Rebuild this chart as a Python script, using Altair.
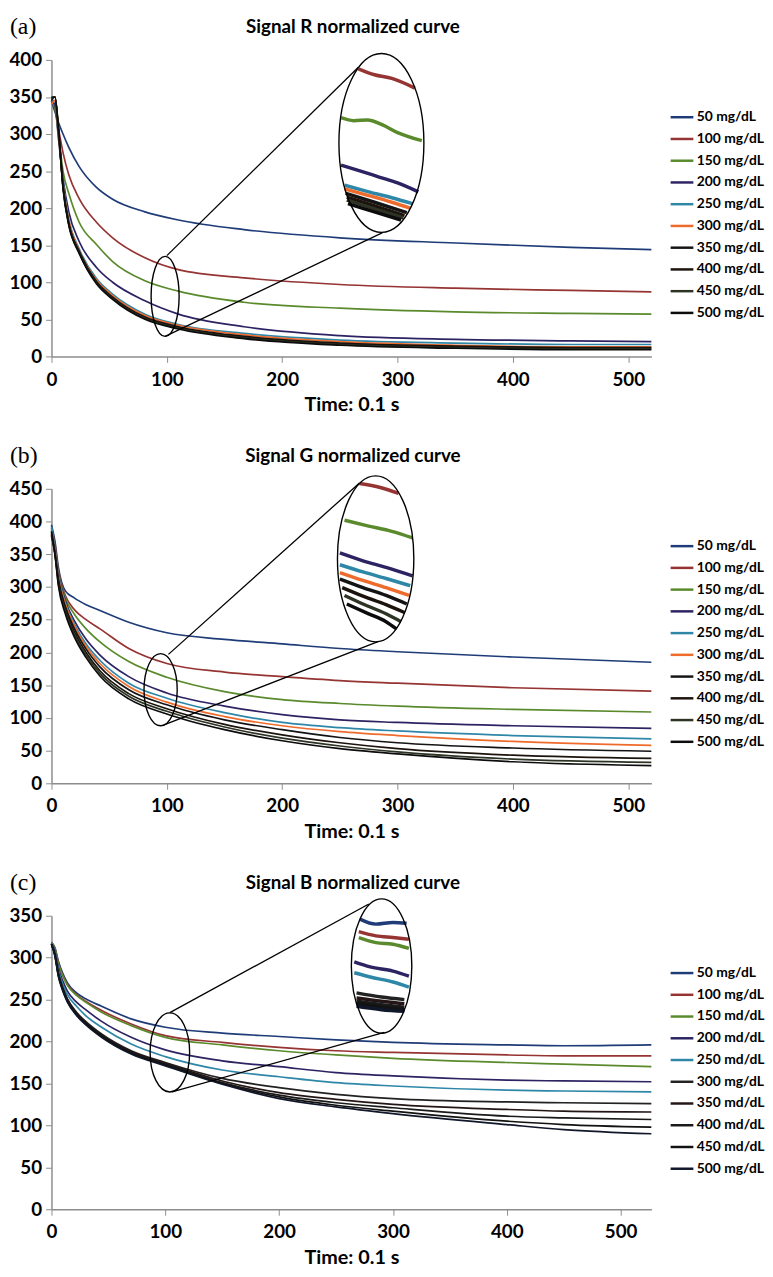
import altair as alt
import pandas as pd

# ---- data ----
LABELS_AB = ["50 mg/dL", "100 mg/dL", "150 mg/dL", "200 mg/dL", "250 mg/dL",
             "300 mg/dL", "350 mg/dL", "400 mg/dL", "450 mg/dL", "500 mg/dL"]
LABELS_C = ["50 mg/dL", "100 mg/dL", "150 md/dL", "200 md/dL", "250 md/dL",
            "300 mg/dL", "350 md/dL", "400 md/dL", "450 md/dL", "500 mg/dL"]

COLORS_AB = ["#1f3c78", "#953432", "#5a8a2c", "#2c2362", "#2f87a8",
             "#ef6b2c", "#141414", "#1b130c", "#2d3424", "#0c0c0c"]
COLORS_C = ["#1f3c78", "#953432", "#5a8a2c", "#2c2362", "#2f87a8",
            "#222222", "#241616", "#1a1a1a", "#121212", "#10172a"]

# panel (a) signal R
X_A = [0, 3, 6, 10, 15, 24, 39, 53, 81, 110, 167, 250, 350, 450, 520]
R_50 = [345, 330, 316, 300, 282, 256, 228, 212, 195, 184, 171, 160, 153, 147, 144]
R_100 = [345, 335, 308, 275, 245, 213, 181, 160, 133, 117, 106, 97, 92, 89, 87]
R_150 = [345, 335, 300, 250, 220, 181, 151, 128, 102, 88, 73, 65, 60, 58, 57]
R_200 = [345, 340, 295, 240, 195, 155, 120, 100, 75, 57, 40, 28, 23, 21, 20]
R_250 = [345, 345, 300, 235, 185, 145, 105, 84, 57, 43, 31, 22, 18, 16, 16]
R_300 = [340, 345, 302, 232, 183, 143, 103, 82, 55, 42, 29, 20, 15, 13, 13]
R_350 = [345, 350, 305, 230, 180, 142, 101, 80, 53, 40, 27, 18, 14, 12, 12]
R_400 = [348, 350, 307, 229, 179, 141, 100, 79, 52, 39, 26, 17, 13, 11, 11]
R_450 = [348, 350, 308, 228, 178, 140, 99, 78, 51, 38, 25, 16, 12, 10, 10]
R_500 = [350, 350, 310, 227, 177, 139, 98, 77, 50, 37, 24, 15, 11, 9, 9]

# panel (b) signal G
X_B = [0, 3, 6, 12, 20, 30, 42, 67, 100, 150, 200, 250, 300, 400, 520]
G_50 = [395, 370, 330, 294, 283, 273, 264, 246, 230, 220, 213, 206, 201, 193, 185]
G_100 = [390, 365, 325, 287, 265, 250, 236, 206, 183, 170, 163, 157, 153, 146, 141]
G_150 = [388, 360, 322, 283, 258, 236, 216, 186, 162, 140, 128, 122, 118, 113, 109]
G_200 = [385, 360, 320, 279, 248, 220, 196, 163, 138, 118, 105, 97, 93, 88, 84]
G_250 = [392, 358, 318, 276, 243, 213, 188, 153, 130, 108, 93, 85, 80, 73, 68]
G_300 = [380, 355, 315, 274, 240, 209, 183, 148, 124, 102, 88, 79, 73, 64, 58]
G_350 = [378, 352, 312, 270, 236, 205, 178, 143, 120, 97, 82, 70, 62, 54, 49]
G_400 = [380, 350, 308, 266, 231, 200, 172, 137, 114, 90, 74, 62, 53, 43, 38]
G_450 = [382, 352, 305, 263, 227, 196, 168, 133, 110, 86, 69, 57, 48, 37, 32]
G_500 = [385, 350, 302, 259, 223, 192, 164, 129, 106, 82, 65, 53, 45, 33, 27]

# panel (c) signal B
X_C = [0, 3, 6, 10, 14, 22, 30, 44, 70, 100, 150, 200, 250, 300, 400, 450, 527]
B_50 = [318, 312, 296, 281, 270, 258, 251, 242, 227, 217, 210, 206, 202, 199, 196, 195, 196]
B_100 = [318, 311, 294, 279, 268, 256, 248, 237, 221, 207, 199, 193, 189, 187, 184, 183, 183]
B_150 = [318, 311, 293, 278, 267, 255, 247, 235, 219, 205, 196, 189, 184, 180, 175, 173, 170]
B_200 = [317, 308, 288, 272, 260, 247, 238, 224, 205, 190, 177, 170, 163, 159, 154, 153, 152]
B_250 = [317, 306, 285, 268, 256, 242, 231, 217, 197, 182, 166, 158, 151, 147, 142, 141, 140]
B_300 = [316, 304, 282, 264, 251, 235, 224, 209, 189, 175, 156, 145, 137, 132, 128, 127, 126]
B_350 = [316, 304, 281, 263, 250, 234, 223, 208, 188, 174, 153, 139, 131, 125, 119, 117, 116]
B_400 = [316, 303, 280, 262, 249, 233, 222, 207, 187, 173, 151, 136, 127, 121, 111, 109, 107]
B_450 = [316, 303, 279, 261, 248, 232, 221, 206, 186, 172, 150, 134, 124, 117, 105, 101, 98]
B_500 = [316, 302, 278, 260, 247, 231, 220, 205, 185, 171, 149, 132, 122, 114, 101, 95, 90]

# magnified segments drawn inside the big ellipse (series index: xs, ys)
INSET_A = {
    1: ([266, 280, 295, 315], [388, 380, 375, 362]),
    2: ([251, 262, 274, 286, 300, 321], [322, 318, 319, 313, 302, 291]),
    3: ([251, 268, 284, 300, 318], [258, 250, 242, 234, 222]),
    4: ([254, 275, 295, 313], [231, 222, 214, 206]),
    5: ([254, 275, 295, 311], [226, 217, 208, 200]),
    6: ([255, 280, 308], [220, 208, 194]),
    7: ([256, 280, 306], [215, 203, 190]),
    8: ([256, 280, 305], [211, 199, 187]),
    9: ([257, 280, 303], [206, 195, 184]),
}
INSET_B = {
    1: ([267, 285, 301], [458, 452, 443]),
    2: ([254, 275, 295, 313], [402, 393, 385, 375]),
    3: ([250, 270, 290, 313], [352, 340, 330, 317]),
    4: ([250, 270, 290, 311], [334, 323, 313, 302]),
    5: ([250, 270, 290, 310], [322, 310, 299, 287]),
    6: ([250, 270, 290, 308], [312, 299, 287, 274]),
    7: ([252, 270, 290, 306], [299, 286, 273, 261]),
    8: ([254, 270, 290, 303], [287, 274, 259, 247]),
    9: ([256, 275, 290, 299], [274, 259, 247, 236]),
}
INSET_C = {
    0: ([271, 285, 300, 312], [346, 340, 342, 341]),
    1: ([270, 285, 300, 314], [331, 326, 324, 322]),
    2: ([270, 285, 300, 314], [324, 318, 316, 311]),
    3: ([266, 280, 300, 314], [295, 289, 284, 278]),
    4: ([266, 280, 300, 314], [282, 277, 271, 265]),
    5: ([268, 290, 310], [258, 253, 250]),
    6: ([268, 290, 310], [252, 248, 245]),
    7: ([268, 290, 310], [248, 244, 241]),
    8: ([268, 290, 310], [245, 241, 238]),
    9: ([268, 290, 310], [242, 238, 236]),
}

# zoom ellipse centres (small, big) and connector lines, in data units
ZOOM_A = [(98.5, 81), (286, 288)]
ZOOM_B = [(94.6, 143), (281, 343)]
ZOOM_C = [(104, 187), (290, 290)]
LINK_A = {"x": [100, 98.5], "y": [136, 27], "x2": [266, 287], "y2": [390, 167]}
LINK_B = {"x": [101.4, 97], "y": [197, 89], "x2": [267, 283.6], "y2": [459, 217]}
LINK_C = {"x": [104, 106], "y": [234.5, 140], "x2": [278.8, 292.4], "y2": [364, 211]}


def ellipse_path(r):
    # unit ellipse (height 2, width 2r) made of 4 bezier curves
    k = 0.5523
    return (f"M 0 -1 C {k*r} -1 {r} {-k} {r} 0 C {r} {k} {k*r} 1 0 1 "
            f"C {-k*r} 1 {-r} {k} {-r} 0 C {-r} {-k} {-k*r} -1 0 -1 Z")


def panel(tag, title, xs, curves, labels, colors, xmax, ymax, h,
          inset, zoom, link, ell_style):
    rows = []
    for lab, ys in zip(labels, curves):
        for x, y in zip(xs, ys):
            rows.append({"series": lab, "x": x, "y": y})
    df = pd.DataFrame(rows)

    irows = []
    for i, (ix, iy) in inset.items():
        for x, y in zip(ix, iy):
            irows.append({"series": labels[i], "x": x, "y": y})
    idf = pd.DataFrame(irows)

    xenc = alt.X("x:Q", scale=alt.Scale(domain=[0, xmax], nice=False),
                 axis=alt.Axis(values=[0, 100, 200, 300, 400, 500], title="Time: 0.1 s",
                               grid=False, labelFlush=False, labelPadding=8, titlePadding=6,
                               tickCount=20))
    # tickCount kept high so that every 50 step keeps its label
    yenc = alt.Y("y:Q", scale=alt.Scale(domain=[0, ymax], nice=False),
                 axis=alt.Axis(values=list(range(0, ymax + 1, 50)), title=None,
                               grid=False, labelPadding=4, labelOverlap=False, tickCount=20))
    color = alt.Color("series:N", scale=alt.Scale(domain=labels, range=colors),
                      legend=alt.Legend(orient="none", legendX=625, legendY=45, title=None,
                                        symbolType="stroke", symbolSize=529,
                                        symbolStrokeWidth=2.5, labelFont="Lato",
                                        labelFontSize=14, labelFontWeight="bold",
                                        labelColor="black", labelOffset=2, rowPadding=2,
                                        padding=0))

    lines = alt.Chart(df).mark_line(strokeWidth=1.7, interpolate="monotone").encode(
        x=xenc, y=yenc, color=color)
    zoomed = alt.Chart(idf).mark_line(strokeWidth=3.5, interpolate="monotone").encode(
        x="x:Q", y="y:Q", color=color)

    layers = [lines, zoomed]
    for (cx, cy), (eh, r) in zip(zoom, ell_style):
        ell = alt.Chart(pd.DataFrame({"x": [cx], "y": [cy]})).mark_point(
            shape=ellipse_path(r), size=eh * eh, filled=False, color="black",
            strokeWidth=1.4, opacity=1).encode(x="x:Q", y="y:Q")
        layers.append(ell)
    links = alt.Chart(pd.DataFrame(link)).mark_rule(color="black", strokeWidth=1.3).encode(
        x="x:Q", y="y:Q", x2="x2:Q", y2="y2:Q")
    layers.append(links)

    # panel letter and heading, placed above the plot area
    texts = pd.DataFrame({"t": [tag, title]})
    letter = alt.Chart(texts).transform_filter(alt.datum.t == tag).mark_text(
        font="Liberation Serif", fontSize=24, align="left", baseline="middle").encode(
        x=alt.value(-42), y=alt.value(-33), text="t:N")
    heading = alt.Chart(texts).transform_filter(alt.datum.t == title).mark_text(
        font="Lato", fontSize=19, fontWeight="bold", align="center", baseline="middle").encode(
        x=alt.value(305), y=alt.value(-33), text="t:N")
    layers += [letter, heading]

    return alt.layer(*layers).properties(width=607, height=h)


a = panel("(a)", "Signal R normalized curve", X_A,
          [R_50, R_100, R_150, R_200, R_250, R_300, R_350, R_400, R_450, R_500],
          LABELS_AB, COLORS_AB, 520, 400, 300, INSET_A, ZOOM_A, LINK_A,
          [(81, 0.35), (181, 0.475)])
b = panel("(b)", "Signal G normalized curve", X_B,
          [G_50, G_100, G_150, G_200, G_250, G_300, G_350, G_400, G_450, G_500],
          LABELS_AB, COLORS_AB, 520, 450, 298, INSET_B, ZOOM_B, LINK_B,
          [(73, 0.46), (168, 0.46)])
c = panel("(c)", "Signal B normalized curve", X_C,
          [B_50, B_100, B_150, B_200, B_250, B_300, B_350, B_400, B_450, B_500],
          LABELS_C, COLORS_C, 527, 350, 297, INSET_C, ZOOM_C, LINK_C,
          [(80, 0.5), (136, 0.45)])

chart = alt.vconcat(a, b, c, spacing=134, bounds="flush").resolve_scale(
    color="independent", x="independent", y="independent"
).properties(padding=0).configure_view(stroke=None).configure_axis(
    domainColor="#8c8c8c", tickColor="#8c8c8c", domainWidth=1.5, tickSize=6,
    labelFont="Lato", labelFontSize=19, labelFontWeight="bold", labelColor="black",
    titleFont="Lato", titleFontSize=20, titleFontWeight="bold", titleColor="black")

chart.save("out.html", embed_options={"renderer": "svg", "actions": False})
